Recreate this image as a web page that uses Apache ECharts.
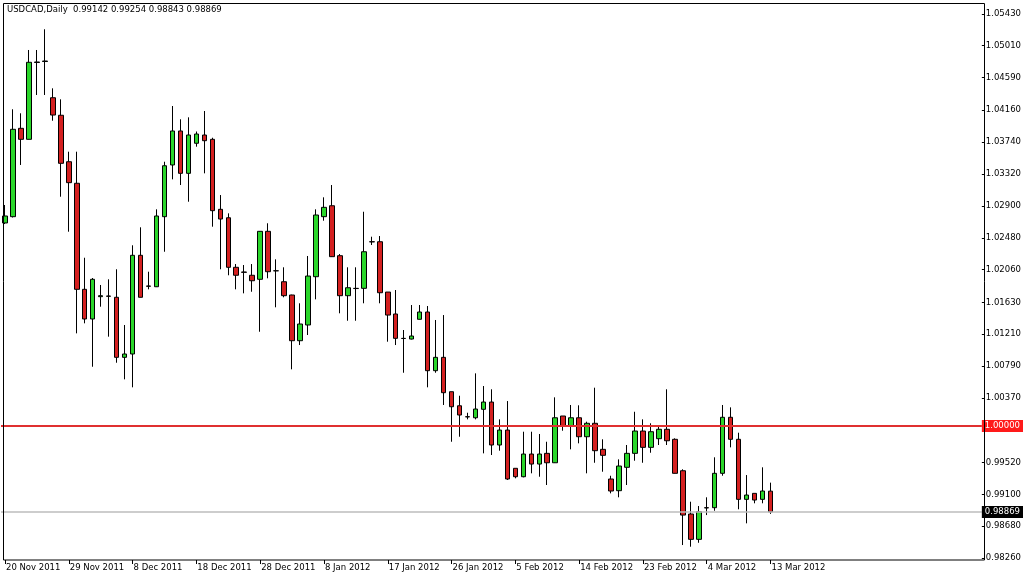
<!DOCTYPE html>
<html>
<head>
<meta charset="utf-8">
<script src="https://cdn.jsdelivr.net/npm/echarts@6/dist/echarts.min.js"></script>
<style>
html,body{margin:0;padding:0;background:#fff;}
#chart{width:1024px;height:576px;}
</style>
</head>
<body>
<div id="chart"></div>
<script>
const dates = [
"20 Nov 2011","21 Nov 2011","22 Nov 2011","23 Nov 2011","24 Nov 2011","25 Nov 2011","27 Nov 2011","28 Nov 2011","29 Nov 2011","30 Nov 2011",
"1 Dec 2011","2 Dec 2011","4 Dec 2011","5 Dec 2011","6 Dec 2011","7 Dec 2011","8 Dec 2011","9 Dec 2011","11 Dec 2011","12 Dec 2011",
"13 Dec 2011","14 Dec 2011","15 Dec 2011","16 Dec 2011","18 Dec 2011","19 Dec 2011","20 Dec 2011","21 Dec 2011","22 Dec 2011","23 Dec 2011",
"26 Dec 2011","27 Dec 2011","28 Dec 2011","29 Dec 2011","30 Dec 2011",
"2 Jan 2012","3 Jan 2012","4 Jan 2012","5 Jan 2012","6 Jan 2012","8 Jan 2012","9 Jan 2012","10 Jan 2012","11 Jan 2012","12 Jan 2012",
"13 Jan 2012","15 Jan 2012","16 Jan 2012","17 Jan 2012","18 Jan 2012","19 Jan 2012","20 Jan 2012","22 Jan 2012","23 Jan 2012","24 Jan 2012",
"25 Jan 2012","26 Jan 2012","27 Jan 2012","29 Jan 2012","30 Jan 2012","31 Jan 2012",
"1 Feb 2012","2 Feb 2012","3 Feb 2012","5 Feb 2012","6 Feb 2012","7 Feb 2012","8 Feb 2012","9 Feb 2012","10 Feb 2012","12 Feb 2012",
"13 Feb 2012","14 Feb 2012","15 Feb 2012","16 Feb 2012","17 Feb 2012","19 Feb 2012","20 Feb 2012","21 Feb 2012","22 Feb 2012","23 Feb 2012",
"24 Feb 2012","26 Feb 2012","27 Feb 2012","28 Feb 2012","29 Feb 2012",
"1 Mar 2012","2 Mar 2012","4 Mar 2012","5 Mar 2012","6 Mar 2012","7 Mar 2012","8 Mar 2012","9 Mar 2012","11 Mar 2012","12 Mar 2012","13 Mar 2012"
];
const opens = [
1.02675,1.02758,1.03922,1.03777,1.04796,1.04802,1.04325,1.04094,1.03482,1.03198,
1.01801,1.01410,1.01704,1.01713,1.01696,1.00905,1.00949,1.02249,1.01845,1.01835,
1.02758,1.03439,1.03887,1.03329,1.03725,1.03834,1.03777,1.02855,1.02744,1.02091,
1.02029,1.01986,1.01933,1.02565,1.02046,1.01901,1.01726,1.01124,1.01331,1.01967,
1.02758,1.02902,1.02244,1.01717,1.01814,1.01814,1.02428,1.02428,1.01765,1.01476,
1.01155,1.01146,1.01406,1.01502,1.00729,1.00905,1.00452,1.00267,1.00123,1.00109,
1.00220,1.00316,0.99750,0.99947,0.99443,0.99332,0.99631,0.99499,0.99640,0.99516,
1.00132,1.00000,1.00109,0.99859,1.00036,0.99693,0.99302,0.99148,0.99456,0.99640,
0.99934,0.99719,0.99833,0.99957,0.99825,0.99411,0.98841,0.98507,0.98924,0.98924,
0.99377,1.00115,0.99825,0.99034,0.99113,0.99034,0.99142
];
const highs = [
1.02912,1.04173,1.04120,1.04954,1.04954,1.05227,1.04449,1.04304,1.03614,1.03614,
1.02217,1.01950,1.01858,1.01933,1.02065,1.01331,1.02381,1.02618,1.02033,1.02855,
1.03482,1.04216,1.04041,1.04067,1.03880,1.04150,1.03798,1.03043,1.02802,1.02134,
1.02121,1.02134,1.02569,1.02671,1.02196,1.02091,1.01730,1.01617,1.02240,1.02855,
1.03013,1.03175,1.02266,1.02091,1.02091,1.02823,1.02494,1.02503,1.01765,1.01792,
1.01265,1.01594,1.01594,1.01581,1.01397,1.01462,1.00452,1.00399,1.00175,1.00694,
1.00527,1.00484,1.00088,1.00329,0.99443,0.99925,0.99925,0.99895,0.99793,1.00378,
1.00132,1.00277,1.00273,1.00057,1.00505,0.99825,0.99345,0.99561,0.99750,1.00188,
1.00088,1.00036,0.99991,1.00484,0.99838,0.99430,0.99003,0.98946,0.99061,0.99588,
1.00277,1.00246,0.99912,0.99354,0.99113,0.99456,0.99254
];
const lows = [
1.02661,1.02747,1.03439,1.03775,1.04361,1.04361,1.04022,1.03021,1.02560,1.01221,
1.01353,1.00781,1.01572,1.01177,1.00834,1.00615,1.00510,1.01694,1.01801,1.01831,
1.02296,1.03250,1.03175,1.02955,1.03680,1.03329,1.02626,1.02065,1.01986,1.01801,
1.01748,1.01769,1.01242,1.01946,1.01564,1.01696,1.00747,1.01067,1.01199,1.01669,
1.02705,1.02227,1.01485,1.01387,1.01387,1.01617,1.02385,1.01617,1.01111,1.01067,
1.00702,1.01140,1.01403,1.00510,1.00702,1.00277,0.99793,0.99859,1.00088,1.00088,
0.99640,0.99618,0.99675,0.99289,0.99311,0.99324,0.99377,0.99332,0.99223,0.99513,
0.99938,0.99693,0.99772,0.99377,0.99516,0.99398,0.99113,0.99061,0.99223,0.99543,
0.99516,0.99648,0.99750,0.99750,0.99374,0.98432,0.98410,0.98462,0.98827,0.98884,
0.99345,0.99719,0.98903,0.98718,0.98982,0.98982,0.98843
];
const closes = [
1.02767,1.03909,1.03777,1.04792,1.04789,1.04809,1.04097,1.03461,1.03206,1.01801,
1.01410,1.01933,1.01717,1.01709,1.00905,1.00949,1.02249,1.01696,1.01841,1.02767,
1.03429,1.03887,1.03329,1.03834,1.03847,1.03759,1.02837,1.02727,1.02091,1.01986,
1.02025,1.01914,1.02565,1.02033,1.02044,1.01717,1.01124,1.01344,1.01976,1.02780,
1.02881,1.02231,1.01717,1.01822,1.01811,1.02296,1.02426,1.01756,1.01462,1.01155,
1.01153,1.01186,1.01502,1.00729,1.00905,1.00439,1.00254,1.00145,1.00120,1.00224,
1.00316,0.99750,0.99947,0.99302,0.99332,0.99631,0.99499,0.99631,0.99516,1.00109,
1.00000,1.00109,0.99859,1.00036,0.99675,0.99614,0.99144,0.99473,0.99640,0.99934,
0.99719,0.99925,0.99957,0.99806,0.99377,0.98827,0.98507,0.98871,0.98921,0.99377,
1.00115,0.99825,0.99034,0.99091,0.99025,0.99144,0.98869
];
const yTicks = [1.05430,1.05010,1.04590,1.04160,1.03740,1.03320,1.02900,1.02480,1.02060,1.01630,1.01210,1.00790,1.00370,0.99520,0.99100,0.98680,0.98260];
const levelPrice = 1.00000;
const bidPrice = closes[closes.length - 1];

const last = dates.length - 1;
const axisCats = dates.concat(new Array(26).fill(''));
const candleData = dates.map((d, i) => [opens[i], closes[i], lows[i], highs[i]]);
const titleText = 'USDCAD,Daily  ' + [opens[last], highs[last], lows[last], closes[last]].map(v => v.toFixed(5)).join(' ');
const showLabel = (idx) => idx % 8 === 0 && idx <= last;
const FONT = 'DejaVu Sans';

const chart = echarts.init(document.getElementById('chart'), null, {renderer: 'canvas'});
chart.setOption({
  animation: false,
  backgroundColor: '#ffffff',
  grid: {left: 1, right: 39, top: 3, bottom: 16, show: false},
  graphic: [
    {type: 'rect', z: 50, silent: true, shape: {x: 3.5, y: 3.5, width: 981, height: 556.5},
     style: {fill: 'none', stroke: '#000', lineWidth: 1}},
    {type: 'text', left: 7, top: 5, z: 60, silent: true,
     style: {text: titleText, fill: '#000', font: '8.5px "DejaVu Sans"'}}
  ],
  xAxis: {
    type: 'category',
    data: axisCats,
    boundaryGap: true,
    axisLine: {show: false},
    axisTick: {show: true, alignWithLabel: true, length: 4, interval: (i) => showLabel(i), lineStyle: {color: '#000'}},
    axisLabel: {interval: (i) => showLabel(i), align: 'left', margin: 3, color: '#000', fontFamily: FONT, fontSize: 8.5, padding: [0,0,0,1]},
    splitLine: {show: false}
  },
  yAxis: {
    type: 'value',
    position: 'right',
    min: 0.98235,
    max: 1.05573,
    axisLine: {show: false},
    axisTick: {show: true, length: 3, customValues: yTicks, lineStyle: {color: '#000'}},
    axisLabel: {customValues: yTicks, formatter: (v) => v.toFixed(5), margin: 4, color: '#000', fontFamily: FONT, fontSize: 8.5},
    splitLine: {show: false}
  },
  series: [{
    type: 'candlestick',
    data: candleData,
    barWidth: 5,
    itemStyle: {color: '#2ad62a', color0: '#d42020', borderColor: '#000', borderColor0: '#000', borderWidth: 1},
    markLine: {
      silent: true,
      precision: 5,
      symbol: ['none', 'none'],
      z: 40,
      data: [
        {yAxis: levelPrice, lineStyle: {color: '#e03030', width: 2, type: 'solid'},
         label: {show: true, position: 'end', distance: 0, formatter: levelPrice.toFixed(5), color: '#fff', backgroundColor: '#ff1a1a', padding: [2, 3, 1, 3], fontFamily: FONT, fontSize: 8.5}},
        {yAxis: bidPrice, lineStyle: {color: '#bdbdbd', width: 1.5, type: 'solid'},
         label: {show: true, position: 'end', distance: 0, formatter: bidPrice.toFixed(5), color: '#fff', backgroundColor: '#000', padding: [2, 3, 1, 3], fontFamily: FONT, fontSize: 8.5}}
      ]
    }
  }]
});
</script>
</body>
</html>
